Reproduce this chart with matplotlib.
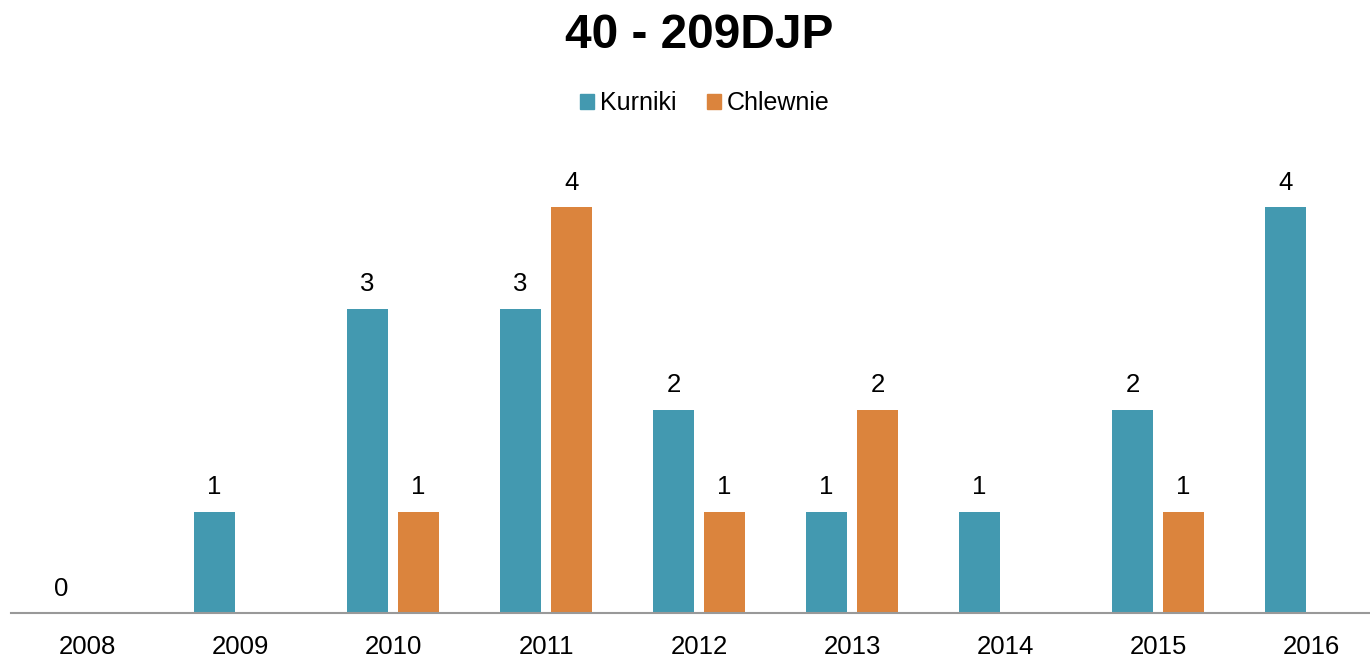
import matplotlib
matplotlib.use("Agg")
import matplotlib.pyplot as plt
import numpy as np
from matplotlib.patches import Rectangle

years = ["2008", "2009", "2010", "2011", "2012", "2013", "2014", "2015", "2016"]
kurniki = [0, 1, 3, 3, 2, 1, 1, 2, 4]
chlewnie = [None, None, 1, 4, 1, 2, None, 1, None]

title = "40 - 209DJP"
series_names = ["Kurniki", "Chlewnie"]
colors = ["#4399B0", "#DB843D"]

plt.rcParams['font.family'] = ['Liberation Sans', 'DejaVu Sans']

W, H = 1370, 658
fig = plt.figure(figsize=(W / 100, H / 100), dpi=100)

left_px, base_px = 10.5, 613
cat_px = 153
ax = fig.add_axes([left_px / W, (H - base_px) / H, (W - left_px) / W, 507.5 / H])
ax.set_xlim(-0.5, -0.5 + (W - left_px) / cat_px)
ax.set_ylim(0, 5)

x = np.arange(len(years))
bw = 0.265
off = 0.1667
for vals, sign, col in [(kurniki, -1, colors[0]), (chlewnie, 1, colors[1])]:
    for xi, v in zip(x, vals):
        if v is None:
            continue
        ax.bar(xi + sign * off, v, width=bw, color=col, zorder=2)
        ax.annotate(str(v), (xi + sign * off, v), xytext=(0, 12.6), textcoords="offset points",
                    ha="center", va="baseline", fontsize=18.5, color="#000000")

for s in ["top", "right", "left"]:
    ax.spines[s].set_visible(False)
ax.spines["bottom"].set_color("#999999")
ax.spines["bottom"].set_linewidth(1.5)
ax.set_yticks([])
ax.set_xticks(x)
ax.set_xticklabels(years, fontsize=18.5)
ax.tick_params(axis="x", length=0, pad=15.5)

fig.text(699.5 / W, 1 - 36 / H, title, ha="center", va="center", fontsize=34.5, fontweight="bold")

# legend
ly = 1 - 103 / H
handles = [Rectangle((0, 0), 1, 1, color=c) for c in colors]
fig.legend(handles, series_names, loc="center", bbox_to_anchor=(705 / W, ly), ncol=2, frameon=False,
           fontsize=18, handlelength=0.55, handleheight=0.55, handletextpad=0.25, columnspacing=1.2)

fig.savefig("out.png", dpi=100)
